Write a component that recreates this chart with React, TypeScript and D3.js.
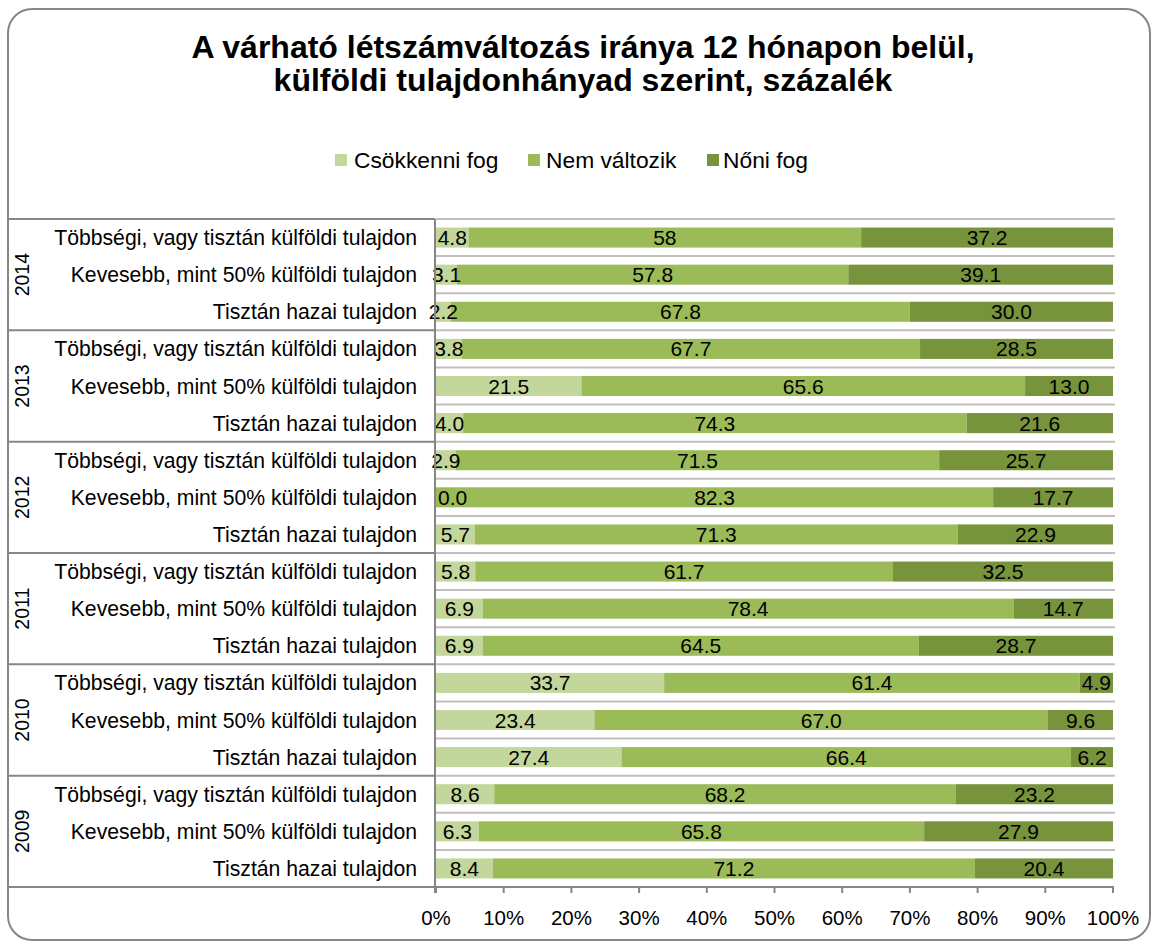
import React from "react";
import * as d3 from "d3";

const years = ["2014", "2013", "2012", "2011", "2010", "2009"];
const ownership = [
  "Többségi, vagy tisztán külföldi tulajdon",
  "Kevesebb, mint 50% külföldi tulajdon",
  "Tisztán hazai tulajdon",
];
const seriesNames = ["Csökkenni fog", "Nem változik", "Nőni fog"];
const seriesColors = ["#c3d69b", "#9bbb59", "#77933c"];

// rows top to bottom: year x ownership
const csokkenni = ["4.8", "3.1", "2.2", "3.8", "21.5", "4.0", "2.9", "0.0", "5.7", "5.8", "6.9", "6.9", "33.7", "23.4", "27.4", "8.6", "6.3", "8.4"];
const nemValtozik = ["58", "57.8", "67.8", "67.7", "65.6", "74.3", "71.5", "82.3", "71.3", "61.7", "78.4", "64.5", "61.4", "67.0", "66.4", "68.2", "65.8", "71.2"];
const noni = ["37.2", "39.1", "30.0", "28.5", "13.0", "21.6", "25.7", "17.7", "22.9", "32.5", "14.7", "28.7", "4.9", "9.6", "6.2", "23.2", "27.9", "20.4"];
const xTicks = [0, 0.1, 0.2, 0.3, 0.4, 0.5, 0.6, 0.7, 0.8, 0.9, 1];

const FONT = "'Liberation Sans', Arial, sans-serif";

export default function App() {
  const W = 1152, H = 946;
  const left = 436, right = 1113, top = 219, bottom = 887;
  const axisX = 435;

  const rows = years.flatMap((y, yi) =>
    ownership.map((o, oi) => {
      const i = yi * 3 + oi;
      return {
        id: `${y}|${oi}`, year: y, label: o,
        labels: [csokkenni[i], nemValtozik[i], noni[i]],
        s0: +csokkenni[i], s1: +nemValtozik[i], s2: +noni[i],
      };
    })
  );

  const stack = d3.stack<any>().keys(["s0", "s1", "s2"]).offset(d3.stackOffsetExpand);
  const series = stack(rows);

  const x = d3.scaleLinear().domain([0, 1]).range([left, right]);
  const y = d3.scaleBand().domain(rows.map((r) => r.id)).range([top, bottom]).paddingInner(0.46).paddingOuter(0.23);
  const bandEdges = d3.range(rows.length + 1).map((i) => top + ((bottom - top) / rows.length) * i);
  const groupH = (bottom - top) / years.length;

  const legendItems = [
    { sx: 335, tx: 354 },
    { sx: 528, tx: 546 },
    { sx: 707, tx: 723 },
  ];

  return (
    <svg width={W} height={H} style={{ display: "block", position: "absolute", left: 0, top: 0 }} fontFamily={FONT}>
      <rect x={0} y={0} width={W} height={H} fill="#fff" />
      <rect x={8} y={9} width={1142} height={931} rx={24} ry={24} fill="#fff" stroke="#868686" strokeWidth={2} />

      {/* title */}
      <text x={583} y={58} textAnchor="middle" fontSize={32} fontWeight="bold" fill="#000">
        A várható létszámváltozás iránya 12 hónapon belül,
      </text>
      <text x={583} y={91} textAnchor="middle" fontSize={32} fontWeight="bold" fill="#000">
        külföldi tulajdonhányad szerint, százalék
      </text>

      {/* legend */}
      {seriesNames.map((n, i) => (
        <g key={n}>
          <rect x={legendItems[i].sx} y={154} width={12} height={12} fill={seriesColors[i]} />
          <text x={legendItems[i].tx} y={168} fontSize={22.8} fill="#000">{n}</text>
        </g>
      ))}

      {/* gridlines */}
      {bandEdges.slice(0, -1).map((e, i) => (
        <line key={i} x1={left} x2={right + 2} y1={e} y2={e} stroke="#c0c0c0" strokeWidth={2} />
      ))}

      {/* bars */}
      {series.map((s, si) => (
        <g key={si} fill={seriesColors[si]}>
          {s.map((d, di) => (
            <rect key={di} x={x(d[0])} y={y(rows[di].id)!} width={Math.max(0, x(d[1]) - x(d[0]))} height={y.bandwidth()} />
          ))}
        </g>
      ))}

      {/* value labels */}
      {series.map((s, si) => (
        <g key={si} fontSize={21} fill="#000">
          {s.map((d, di) => {
            const w = x(d[1]) - x(d[0]);
            const cy = y(rows[di].id)! + y.bandwidth() / 2 + 7.5;
            const isZero = w < 0.5;
            return (
              <text key={di} x={isZero ? x(d[0]) + 2 : (x(d[0]) + x(d[1])) / 2} y={cy} textAnchor={isZero ? "start" : "middle"}>
                {rows[di].labels[si]}
              </text>
            );
          })}
        </g>
      ))}

      {/* axes */}
      <line x1={axisX} x2={axisX} y1={top} y2={bottom + 6} stroke="#868686" strokeWidth={2} />
      <line x1={axisX} x2={right + 1} y1={bottom} y2={bottom} stroke="#868686" strokeWidth={2} />
      {xTicks.map((t) => (
        <g key={t}>
          <line x1={x(t)} x2={x(t)} y1={bottom} y2={bottom + 6} stroke="#868686" strokeWidth={2} />
          <text x={x(t)} y={925} textAnchor="middle" fontSize={20.5} fill="#000">{d3.format(".0%")(t)}</text>
        </g>
      ))}

      {/* group separators */}
      {d3.range(years.length + 1).map((i) => (
        <line key={i} x1={8} x2={axisX} y1={top + groupH * i} y2={top + groupH * i} stroke="#868686" strokeWidth={2} />
      ))}

      {/* category labels */}
      {rows.map((r) => (
        <text key={r.id} x={417} y={y(r.id)! + y.bandwidth() / 2 + 7.5} textAnchor="end" fontSize={21.2} fill="#000">
          {r.label}
        </text>
      ))}

      {/* year labels */}
      {years.map((yr, i) => (
        <text key={yr} transform={`translate(${29},${top + groupH * (i + 0.5)}) rotate(-90)`} textAnchor="middle" fontSize={19.5} fill="#000">
          {yr}
        </text>
      ))}
    </svg>
  );
}
